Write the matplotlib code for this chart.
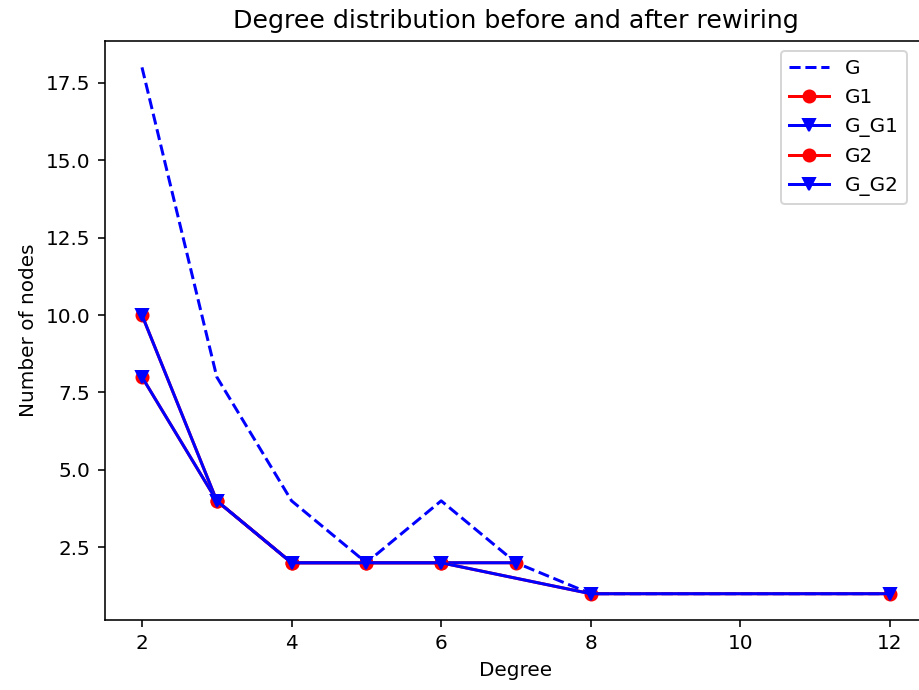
import matplotlib
matplotlib.use("Agg")
import matplotlib.pyplot as plt

deg_G = [2, 3, 4, 5, 6, 7, 8, 12]
cnt_G = [18, 8, 4, 2, 4, 2, 1, 1]
deg_G1 = [2, 3, 4, 5, 6, 7]
cnt_G1 = [10, 4, 2, 2, 2, 2]
deg_G2 = [2, 3, 4, 5, 6, 8, 12]
cnt_G2 = [8, 4, 2, 2, 2, 1, 1]

dpi = 144
fig = plt.figure(figsize=(919 / dpi, 690 / dpi), dpi=dpi)
ax = fig.add_axes([0.1138, 0.1014, 0.8953, 0.8391])
ax.plot(deg_G, cnt_G, 'b--', label='G')
ax.plot(deg_G1, cnt_G1, 'r-o', label='G1')
ax.plot(deg_G1, cnt_G1, 'b-v', label='G_G1')
ax.plot(deg_G2, cnt_G2, 'r-o', label='G2')
ax.plot(deg_G2, cnt_G2, 'b-v', label='G_G2')
ax.set_xlim(1.5, 12.5)
ax.set_title('Degree distribution before and after rewiring', fontsize=12.6, pad=6.5)
ax.set_xlabel('Degree')
ax.set_ylabel('Number of nodes')
ax.legend(loc='upper right', bbox_to_anchor=(0.9875, 1.0))
fig.savefig('out.png', dpi=dpi)
